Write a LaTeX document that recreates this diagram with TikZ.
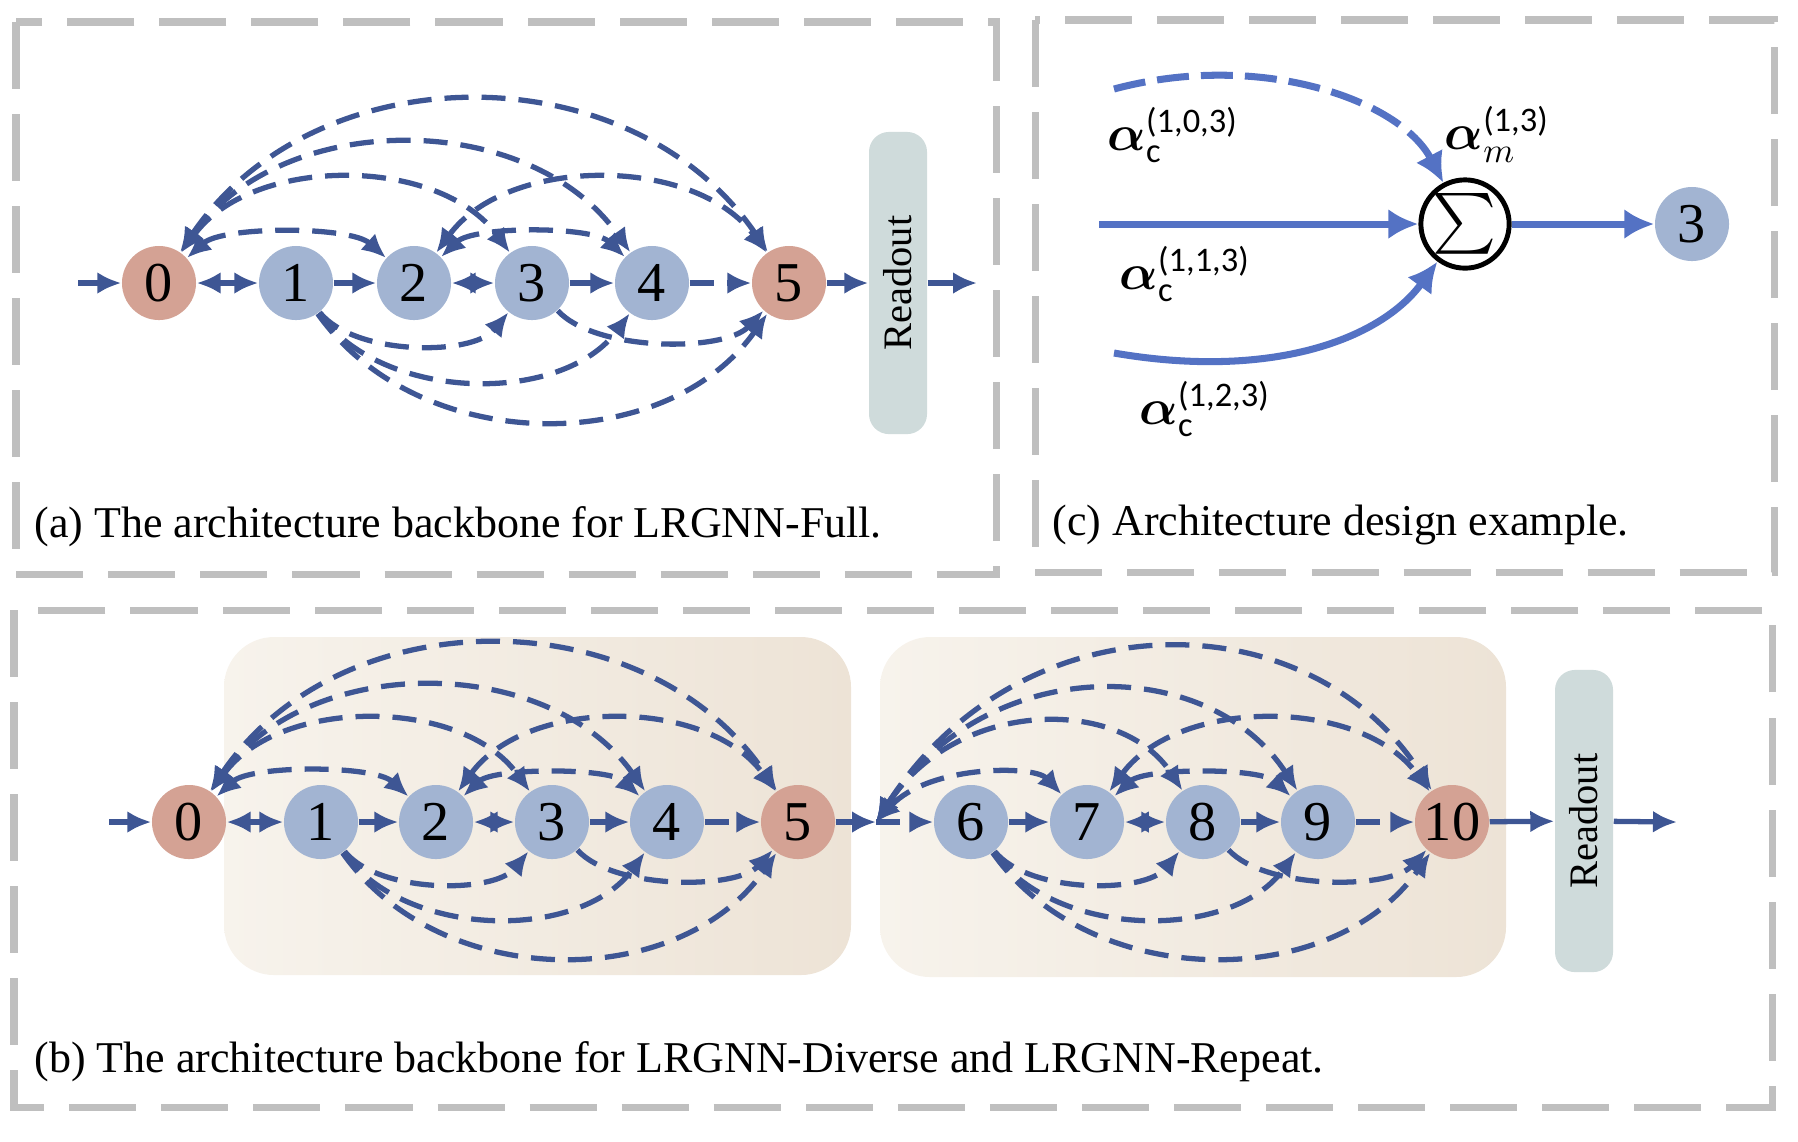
\documentclass[tikz,border=0pt]{standalone}
\usepackage{fontspec}
\usepackage{amsmath}
\setmainfont{Liberation Serif}
\newfontfamily\lblfont{Carlito}
\usetikzlibrary{calc, arrows.meta, positioning}

\definecolor{navy}{HTML}{3E5694}
\definecolor{lineblue}{HTML}{5472C4}
\definecolor{nodeblue}{HTML}{A2B4D2}
\definecolor{nodered}{HTML}{D4A294}
\definecolor{readfill}{HTML}{CFDBDB}
\definecolor{framegray}{HTML}{BFBFBF}
\definecolor{boxL}{HTML}{F7F3EC}
\definecolor{boxR}{HTML}{EDE3D6}

\begin{document}
\begin{tikzpicture}[x=0.01cm, y=-0.01cm, >={Latex[length=2.4mm, width=2.2mm]},
  font=\fontsize{12.5}{15}\selectfont,
  hid/.style={circle, fill=nodeblue, inner sep=0pt, minimum size=7.4mm,
              font=\fontsize{16}{19}\selectfont},
  io/.style={hid, fill=nodered},
  readout/.style={fill=readfill, rounded corners=2mm, inner sep=0pt,
                  minimum width=5.8mm, minimum height=30.2mm,
                  font=\fontsize{11.5}{13}\selectfont},
  panel/.style={draw=framegray, line width=2pt, dash pattern=on 6.7mm off 2.5mm},
  cell/.style={rounded corners=5mm, left color=boxL, right color=boxR},
  subcap/.style={anchor=west, inner sep=0pt},
  link/.style={navy, line width=1.5pt, ->},
  skip/.style={link, dash pattern=on 2.4mm off 1.3mm},
  big/.style={lineblue, line width=2pt, >={Latex[length=3mm, width=3mm]}, ->},
  alab/.style={anchor=west, inner sep=0pt, font=\fontsize{14}{17}\selectfont}]

\useasboundingbox (0,0) rectangle (1798,1141);

% --- frames
\draw[panel] (16,22) rectangle (996,574);
\draw[panel] (1035,20) rectangle (1774,572);
\draw[panel] (14,610) rectangle (1772,1107);

% --- (a) full backbone
\node[io]  (a0) at (159,283) {0};
\node[hid] (a1) at (296,283) {1};
\node[hid] (a2) at (414,283) {2};
\node[hid] (a3) at (532,283) {3};
\node[hid] (a4) at (652,283) {4};
\node[io]  (a5) at (789,283) {5};
\node[readout] (ra) at (898,283) {\rotatebox{90}{Readout}};
\coordinate (ain) at (78,283);
\coordinate (aout) at (977,283);

\draw[link] (ain) -- (a0);
\draw[skip, <->] (a0) -- (a1);
\draw[link] (a1) -- (a2);
\draw[link, <->] (a2) -- (a3);
\draw[link] (a3) -- (a4);
\draw[skip] (a4) -- (a5);
\draw[link] (a5) -- (ra);
\draw[link] (ra) -- (aout);

\foreach \s/\d/\h in {a0/a2/43, a0/a3/96, a0/a4/131, a0/a5/174, a2/a4/43, a2/a5/96}
  \draw[skip, <->] (\s) .. controls ($(\s)!0.25!(\d)+(0,{-1.33*\h})$)
    and ($(\s)!0.75!(\d)+(0,{-1.33*\h})$) .. (\d);
\foreach \s/\d/\h in {a1/a3/55, a1/a4/91, a1/a5/131, a3/a5/52}
  \draw[skip] (\s) .. controls ($(\s)!0.25!(\d)+(0,{1.33*\h})$)
    and ($(\s)!0.75!(\d)+(0,{1.33*\h})$) .. (\d);

\node[subcap] (capa) at (34,527) {(a) The architecture backbone for LRGNN-Full.};

% --- (c) design example
\node[draw, circle, line width=1.4pt, minimum size=8.8mm, inner sep=0pt] (sum)
  at (1465,224) {\fontsize{18}{20}\selectfont$\sum$};
\node[hid] (c3) at (1692,224) {3};
\coordinate (c0s) at (1114,89);
\coordinate (c1s) at (1099,224);
\coordinate (c2s) at (1114,353);

\draw[big, dash pattern=on 3.2mm off 1.2mm] (c0s) .. controls (1260,50) and (1400,100) .. (sum);
\draw[big] (c1s) -- (sum);
\draw[big] (c2s) .. controls (1270,380) and (1380,340) .. (sum);
\draw[big] (sum) -- (c3);

\node[alab] (l0) at (1107,135) {$\boldsymbol{\alpha}_{\text{\lblfont c}}^{\text{\lblfont (1,0,3)}}$};
\node[alab] (l1) at (1119,274) {$\boldsymbol{\alpha}_{\text{\lblfont c}}^{\text{\lblfont (1,1,3)}}$};
\node[alab] (l2) at (1139,409) {$\boldsymbol{\alpha}_{\text{\lblfont c}}^{\text{\lblfont (1,2,3)}}$};
\node[alab] (lm) at (1444,134) {$\boldsymbol{\alpha}_{m}^{\text{\lblfont (1,3)}}$};

\node[subcap] (capc) at (1052,525) {(c) Architecture design example.};

% --- (b) diverse / repeat backbone
\path[cell] (224,637) rectangle (851,975);
\path[cell] (880,637) rectangle (1506,977);

\node[io]  (b0) at (189,822) {0};
\node[hid] (b1) at (321,822) {1};
\node[hid] (b2) at (436,822) {2};
\node[hid] (b3) at (552,822) {3};
\node[hid] (b4) at (667,822) {4};
\node[io]  (b5) at (798,822) {5};
\coordinate (bj) at (876,822);
\node[hid] (b6) at (971,822) {6};
\node[hid] (b7) at (1087,822) {7};
\node[hid] (b8) at (1203,822) {8};
\node[hid] (b9) at (1318,822) {9};
\node[io]  (b10) at (1452,822) {10};
\node[readout] (rb) at (1584,821) {\rotatebox{90}{Readout}};
\coordinate (bin) at (109,822);
\coordinate (bout) at (1677,822);

\draw[link] (bin) -- (b0);
\draw[skip, <->] (b0) -- (b1);
\draw[link] (b1) -- (b2);
\draw[link, <->] (b2) -- (b3);
\draw[link] (b3) -- (b4);
\draw[skip] (b4) -- (b5);
\draw[link] (b5) -- (bj);
\draw[skip] (bj) -- (b6);
\draw[link] (b6) -- (b7);
\draw[link, <->] (b7) -- (b8);
\draw[link] (b8) -- (b9);
\draw[skip] (b9) -- (b10);
\draw[link] (b10) -- (rb);
\draw[link] (rb) -- (bout);

\foreach \s/\d/\h in {b0/b2/43, b0/b3/94, b0/b4/127, b0/b5/169, b2/b4/41, b2/b5/94,
                      bj/b7/43, bj/b8/94, bj/b9/127, bj/b10/169, b7/b9/41, b7/b10/94}
  \draw[skip, <->] (\s) .. controls ($(\s)!0.25!(\d)+(0,{-1.33*\h})$)
    and ($(\s)!0.75!(\d)+(0,{-1.33*\h})$) .. (\d);
\foreach \s/\d/\h in {b1/b3/54, b1/b4/89, b1/b5/128, b3/b5/51,
                      b6/b8/54, b6/b9/89, b6/b10/128, b8/b10/51}
  \draw[skip] (\s) .. controls ($(\s)!0.25!(\d)+(0,{1.33*\h})$)
    and ($(\s)!0.75!(\d)+(0,{1.33*\h})$) .. (\d);

\node[subcap] (capb) at (34,1062) {(b) The architecture backbone for LRGNN-Diverse and LRGNN-Repeat.};
\end{tikzpicture}
\end{document}
